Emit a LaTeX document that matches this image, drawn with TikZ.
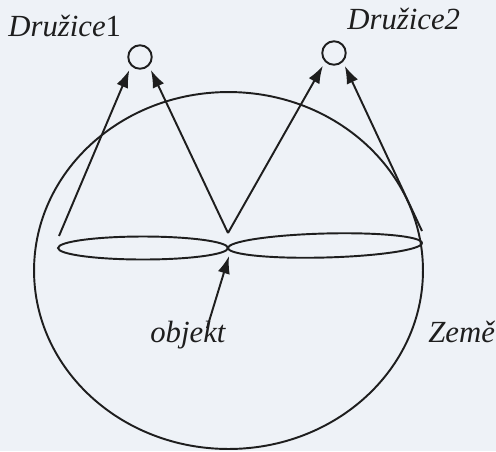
\documentclass[tikz,border=0pt]{standalone}
\usepackage{fontspec}
\setmainfont{Liberation Serif}
\usetikzlibrary{arrows.meta}

\definecolor{paper}{RGB}{238,242,247}
\definecolor{ink}{RGB}{30,30,30}

\tikzset{
  sat/.style={draw=ink, circle, line width=1.1pt, minimum size=0.47cm, inner sep=0pt},
  ray/.style={draw=ink, line width=1.1pt, -{Latex[length=10pt,width=7pt]}, shorten >=2.5pt},
  lbl/.style={font=\fontsize{17.5}{20}\selectfont\itshape, text=ink, inner sep=0pt},
  orbit/.style={draw=ink, line width=1.1pt},
}

\begin{document}
\begin{tikzpicture}[x=0.02cm, y=-0.02cm]
    \fill[paper] (0,0) rectangle (496,451);
    \useasboundingbox (0,0) rectangle (496,451);

    % Zeme a roviny
    \draw[orbit] (228.5,270.5) ellipse [x radius=3.89cm, y radius=3.57cm];
    \draw[orbit] (143,248) ellipse [x radius=1.7cm, y radius=0.23cm];
    \draw[orbit, rotate around={1.5:(325,245.5)}] (325,245.5) ellipse [x radius=1.94cm, y radius=0.24cm];

    \node[sat] (druzice1) at (140,57) {};
    \node[sat] (druzice2) at (334,53) {};

    \coordinate (zapad) at (59,236);
    \coordinate (vrchol) at (228,233);
    \coordinate (vychod) at (422,231);
    \coordinate (bod) at (229,256);
    \coordinate (pata) at (207,328);

    \draw[ray] (zapad) -- (druzice1.-135);
    \draw[ray] (vrchol) -- (druzice1.-45);
    \draw[ray] (vrchol) -- (druzice2.-135);
    \draw[ray] (vychod) -- (druzice2.-45);
    \draw[ray, shorten >=0pt] (pata) -- (bod);

    \node[lbl, anchor=base west] (popis1) at (8,36) {Družice\upshape1};
    \node[lbl, anchor=base west] (popis2) at (347,29) {Družice2};
    \node[lbl, anchor=base west] (objekt) at (150,342) {objekt};
    \node[lbl, anchor=base west] (zeme) at (428,342) {Země};
\end{tikzpicture}
\end{document}
